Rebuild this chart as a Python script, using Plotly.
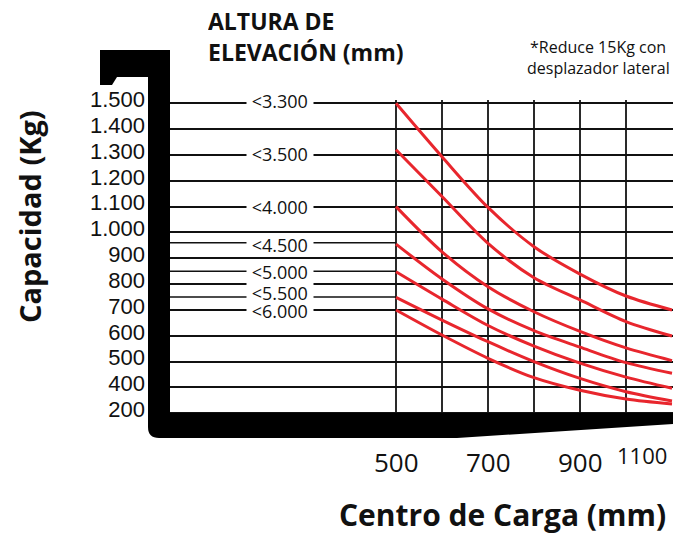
import numpy as np
import plotly.graph_objects as go

# the page body adds an 8px margin; design in reference pixels and shift by OFF
OFF = 8
W, H = 691 - OFF, 535 - OFF
# plot-area box in reference pixels
L_REF, R_REF, T_REF, B_REF = 168, 673, 100, 416

# ---------------- data ----------------
centers = [500, 600, 700, 800, 900, 1000, 1100]          # Centro de carga (mm)
heights = ["<3.300", "<3.500", "<4.000", "<4.500", "<5.000", "<5.500", "<6.000"]
label_kg = [1500, 1300, 1100, 960, 850, 750, 700]       # level of each height label
cap_3300 = [1500, 1293, 1097, 945, 839, 754, 700]
cap_3500 = [1320, 1139, 958, 825, 739, 655, 599]
cap_4000 = [1100, 925, 790, 693, 617, 553, 504]
cap_4500 = [955, 820, 704, 620, 556, 496, 455]
cap_5000 = [848, 742, 640, 560, 494, 440, 394]
cap_5500 = [749, 661, 577, 500, 435, 367, 296]
cap_6000 = [700, 603, 513, 438, 378, 310, 272]
curves = [cap_3300, cap_3500, cap_4000, cap_4500, cap_5000, cap_5500, cap_6000]

ytick_kg = [200, 400, 500, 600, 700, 800, 900, 1000, 1100, 1200, 1300, 1400, 1500]
ytick_text = ["200", "400", "500", "600", "700", "800", "900", "1.000", "1.100",
              "1.200", "1.300", "1.400", "1.500"]
xtick_vals = [500, 700, 900, 1100]
xtick_text = ["500", "700", "900", "1100"]
grid_x = [500, 600, 700, 800, 900, 1000, 1100]

# capacity axis drawn with evenly spaced levels (piecewise scale)
ypos_idx = list(range(len(ytick_kg)))
def ypos(v):
    return np.interp(v, ytick_kg, ypos_idx)

# axis ranges from the pixel layout (500 -> 396px, 1100 -> 672px; 1500 -> 103.3px, 200 -> 413.3px)
px_per_x = (672 - 396) / 600.0
x0 = 500 - (396 - L_REF) / px_per_x
x1 = 1100 + (R_REF - 672) / px_per_x
px_per_y = (413.3 - 103.3) / 12.0
y1 = 12 + (103.3 - T_REF) / px_per_y
y0 = 0 - (B_REF - 413.3) / px_per_y

def px(xp):
    return (xp - L_REF) / (R_REF - L_REF)
def py(yp):
    return (B_REF - yp) / (B_REF - T_REF)

fig = go.Figure()

# reference lines of the height labels
for k in label_kg:
    fig.add_trace(go.Scatter(x=[x0, 500], y=[ypos(k), ypos(k)], mode="lines",
                             line=dict(color="#111111", width=1.5),
                             hoverinfo="skip", showlegend=False))

# capacity curves
for name, c in zip(heights, curves):
    fig.add_trace(go.Scatter(x=centers, y=ypos(c), mode="lines", name=name,
                             line=dict(color="#E8262D", width=3, shape="spline", smoothing=0.9),
                             showlegend=False))

ann = []
label_yshift = {"<3.300": 2, "<3.500": 1, "<4.000": 0, "<4.500": -2, "<5.000": -1,
                "<5.500": 4, "<6.000": -1}
for name, k in reversed(list(zip(heights, label_kg))):
    ann.append(dict(x=247, y=ypos(k), xref="x", yref="y", text="\u00a0" + name + "\u00a0",
                    showarrow=False, yshift=label_yshift[name], height=20,
                    font=dict(family="Open Sans", size=18, color="#111111"),
                    bgcolor="white", borderpad=0, xanchor="center", yanchor="middle"))

for v, t in zip(xtick_vals, xtick_text):
    if v == 1100:
        ann.append(dict(x=v, y=py(455), xref="x", yref="paper", text=t, showarrow=False,
                        font=dict(family="Open Sans", size=22, color="#111111"),
                        xanchor="right", xshift=-3, yanchor="middle"))
    else:
        ann.append(dict(x=v, y=py(462), xref="x", yref="paper", text=t, showarrow=False,
                        font=dict(family="Open Sans", size=26, color="#111111"),
                        xanchor="center", yanchor="middle"))

ann.append(dict(x=px(502), y=py(515), xref="paper", yref="paper", text="<b>Centro de Carga (mm)</b>",
                showarrow=False, font=dict(family="Open Sans", size=30, color="#111111"),
                xanchor="center", yanchor="middle"))
ann.append(dict(x=px(29), y=py(217), xref="paper", yref="paper", text="<b>Capacidad (Kg)</b>",
                showarrow=False, textangle=-90, font=dict(family="Open Sans", size=29, color="#111111"),
                xanchor="center", yanchor="middle"))
ann.append(dict(x=px(206), y=py(21), xref="paper", yref="paper", text="<b>ALTURA DE</b>",
                showarrow=False, height=22, font=dict(family="Open Sans", size=23, color="#111111"),
                xanchor="left", yanchor="middle"))
ann.append(dict(x=px(206), y=py(52), xref="paper", yref="paper", text="<b>ELEVACIÓN (mm)</b>",
                showarrow=False, height=26, font=dict(family="Open Sans", size=23, color="#111111"),
                xanchor="left", yanchor="middle"))
ann.append(dict(x=px(598), y=py(47), xref="paper", yref="paper", text="*Reduce 15Kg con",
                showarrow=False, font=dict(family="Open Sans", size=16, color="#111111"),
                xanchor="center", yanchor="middle"))
ann.append(dict(x=px(598), y=py(68), xref="paper", yref="paper", text="desplazador lateral",
                showarrow=False, font=dict(family="Open Sans", size=16, color="#111111"),
                xanchor="center", yanchor="middle"))

# black fork-shaped frame (decoration), reference-pixel path converted to paper units
pts = [("M", 100, 50), ("L", 170, 50), ("L", 170, 413), ("L", 673, 413), ("L", 673, 424),
       ("L", 457, 438), ("L", 159, 438)]
path = " ".join(f"{c} {px(a):.5f},{py(b):.5f}" for c, a, b in pts)
path += f" Q {px(148):.5f},{py(438):.5f} {px(148):.5f},{py(427):.5f}"
pts2 = [("L", 148, 77), ("L", 117, 77), ("L", 112, 85), ("L", 100, 85)]
path += " " + " ".join(f"{c} {px(a):.5f},{py(b):.5f}" for c, a, b in pts2) + " Z"

fig.update_layout(
    width=W, height=H,
    margin=dict(l=L_REF - OFF, r=W - (R_REF - OFF), t=T_REF - OFF, b=H - (B_REF - OFF), pad=0),
    paper_bgcolor="white", plot_bgcolor="white",
    xaxis=dict(range=[x0, x1], tickvals=grid_x, showticklabels=False, showgrid=True,
               gridcolor="#2a2a2a", gridwidth=2, zeroline=False, showline=False, ticks=""),
    yaxis=dict(range=[y0, y1], tickvals=ypos_idx, ticktext=ytick_text, showgrid=True,
               gridcolor="#111111", gridwidth=1.5, zeroline=False, showline=False, ticks="",
               ticklabelstandoff=22, ticklabelshift=-4,
               tickfont=dict(family="Liberation Sans", size=22, color="#111111")),
    shapes=[dict(type="path", path=path, xref="paper", yref="paper",
                 fillcolor="black", line=dict(width=0), layer="above")],
    annotations=ann,
    showlegend=False,
)

fig.write_html("out.html")
